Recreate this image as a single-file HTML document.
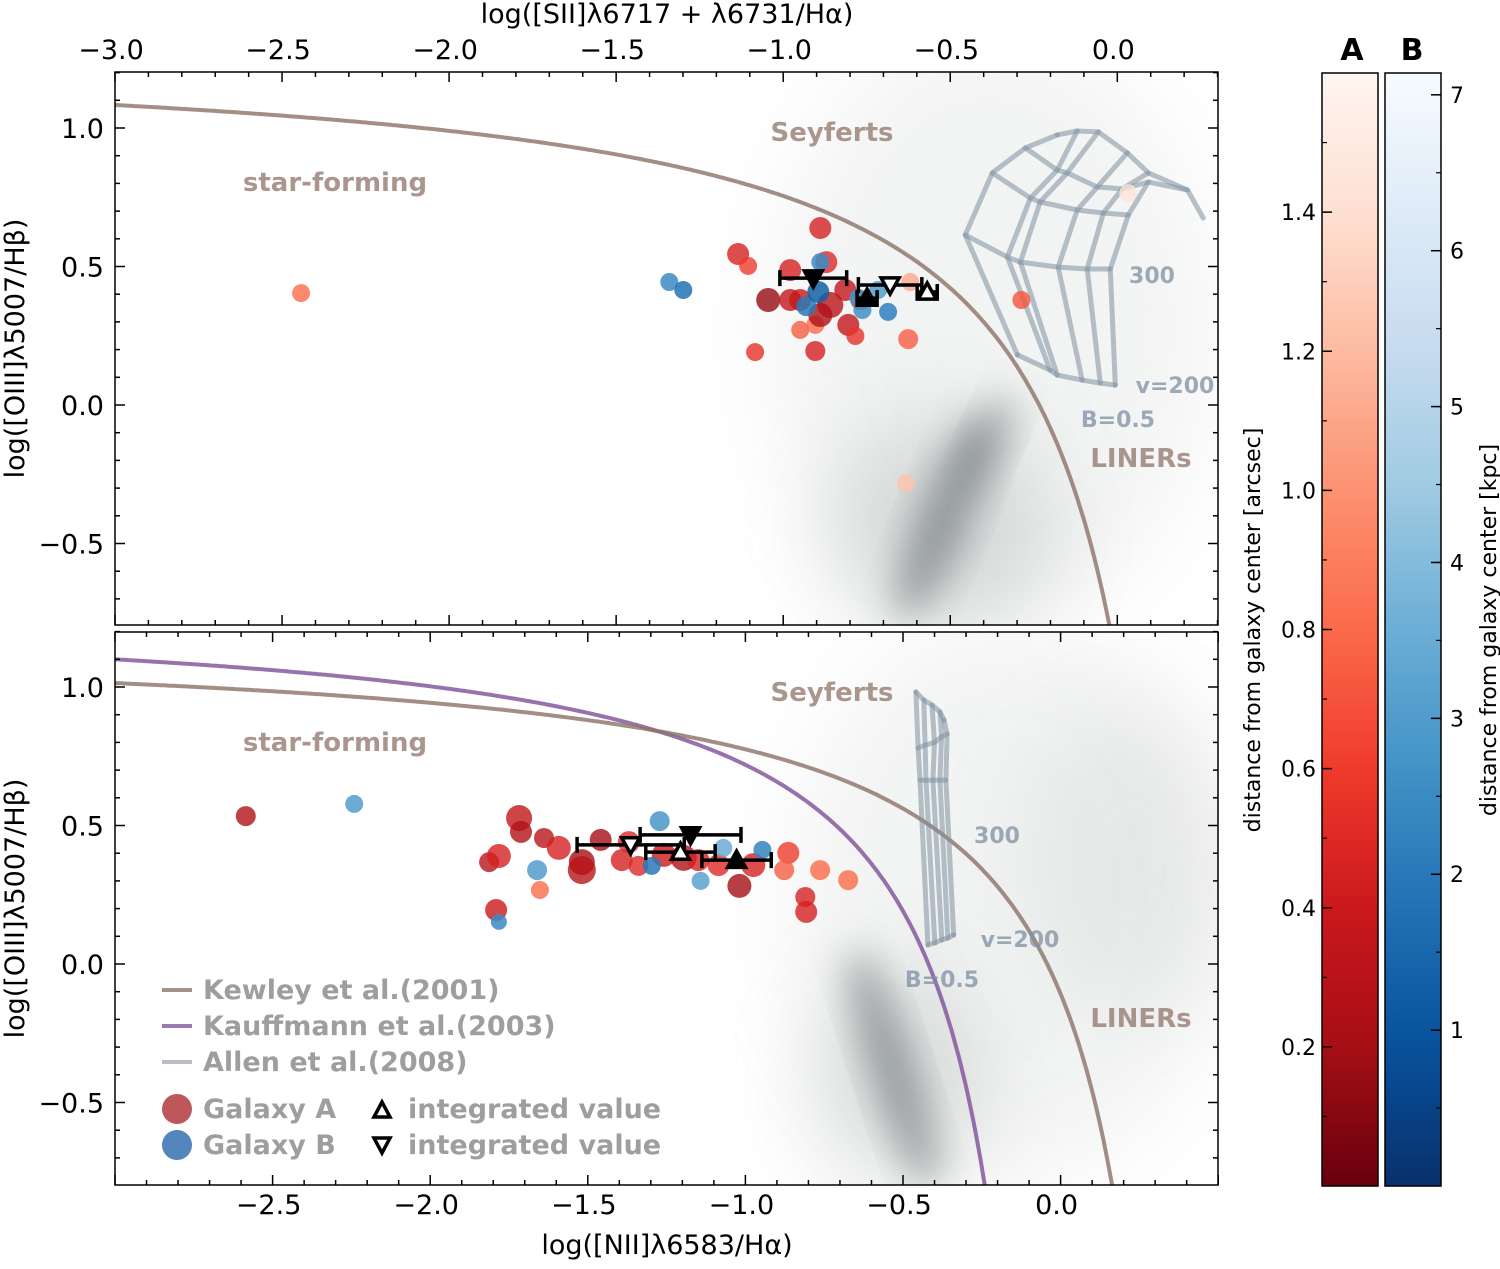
<!DOCTYPE html>
<html><head><meta charset="utf-8">
<style>
html,body{margin:0;padding:0;background:#fff;}
svg{display:block;font-family:"DejaVu Sans","Liberation Sans",sans-serif;}
</style></head>
<body>
<svg id="chart" width="1500" height="1269" viewBox="0 0 1500 1269" xmlns="http://www.w3.org/2000/svg">
<defs>
<linearGradient id="redsR" x1="0" y1="1" x2="0" y2="0">
<stop offset="0" stop-color="#67000d"/><stop offset="0.125" stop-color="#a50f15"/><stop offset="0.25" stop-color="#cb181d"/><stop offset="0.375" stop-color="#ef3b2c"/><stop offset="0.5" stop-color="#fb6a4a"/><stop offset="0.625" stop-color="#fc9272"/><stop offset="0.75" stop-color="#fcbba1"/><stop offset="0.875" stop-color="#fee0d2"/><stop offset="1" stop-color="#fff5f0"/>
</linearGradient>
<linearGradient id="bluesR" x1="0" y1="1" x2="0" y2="0">
<stop offset="0" stop-color="#08306b"/><stop offset="0.125" stop-color="#08519c"/><stop offset="0.25" stop-color="#2171b5"/><stop offset="0.375" stop-color="#4292c6"/><stop offset="0.5" stop-color="#6baed6"/><stop offset="0.625" stop-color="#9ecae1"/><stop offset="0.75" stop-color="#c6dbef"/><stop offset="0.875" stop-color="#deebf7"/><stop offset="1" stop-color="#f7fbff"/>
</linearGradient>
<filter id="blur20" x="-50%" y="-50%" width="200%" height="200%"><feGaussianBlur stdDeviation="18"/></filter>
<filter id="blur40" x="-50%" y="-50%" width="200%" height="200%"><feGaussianBlur stdDeviation="45"/></filter>
<clipPath id="clipTop"><rect x="115" y="72" width="1103" height="553"/></clipPath>
<clipPath id="clipBot"><rect x="115" y="632" width="1103" height="553"/></clipPath>
</defs>
<g id="root"></g>
</svg>
<script>
// ---------- data ----------
const topAx = [-2.443,-0.889,-1.135,-1.105,-0.979,-0.871,-1.045,-0.949,-0.859,-0.805,-0.784,-0.949,-0.904,-1.084,-0.904,-0.626,-0.620,-0.287,0.033,-0.632,-0.769,-0.979,-0.889,-0.814];
const topAy = [0.404,0.639,0.545,0.502,0.487,0.516,0.379,0.379,0.361,0.289,0.249,0.271,0.289,0.191,0.195,0.238,0.444,0.379,0.765,-0.282,0.379,0.379,0.325,0.415];
const topAd = [0.8,0.45,0.45,0.6,0.45,0.5,0.15,0.4,0.3,0.35,0.55,0.75,0.8,0.55,0.45,0.75,1.1,0.7,1.45,1.25,0.5,0.35,0.25,0.35];
const topAr = [9,11,11,9,11,11,12,11,13,11,9,9,9,9,10,10,9,9,9,9,10,11,12,11];
const topBx = [-1.341,-1.299,-0.889,-0.931,-0.895,-0.763,-0.686,-0.775,-0.716];
const topBy = [0.444,0.415,0.516,0.357,0.408,0.343,0.336,0.386,0.415];
const topBd = [2.5,1.8,2.5,2.0,1.3,2.6,2.2,2.8,3.0];
const topBr = [9,9,9,10,11,9,9,9,9];
const topIntX = [-0.910,-0.749,-0.680,-0.569];
const topIntY = [0.458,0.386,0.433,0.408];
const topIntErr = [0.10,0.03,0.095,0.03];
const topIntKind = ["downFilled","upFilled","downOpen","upOpen"];

const botAx = [-2.585,-1.718,-1.712,-1.639,-1.813,-1.782,-1.791,-1.652,-1.592,-1.519,-1.519,-1.459,-1.392,-1.339,-1.259,-1.196,-1.085,-1.019,-0.975,-0.864,-0.877,-0.763,-0.674,-0.810,-0.807,-1.370,-1.149];
const botAy = [0.534,0.527,0.477,0.455,0.368,0.390,0.195,0.267,0.419,0.368,0.339,0.448,0.375,0.354,0.394,0.383,0.357,0.282,0.357,0.401,0.339,0.339,0.303,0.242,0.188,0.440,0.375];
const botAd = [0.25,0.35,0.25,0.3,0.3,0.45,0.4,0.8,0.45,0.2,0.3,0.2,0.45,0.5,0.4,0.25,0.5,0.2,0.45,0.6,0.75,0.8,0.8,0.45,0.45,0.5,0.45];
const botAr = [10,13,11,10,10,12,11,9,12,13,14,11,11,10,12,13,11,12,12,11,10,10,10,10,11,11,11];
const botBx = [-2.241,-1.782,-1.661,-1.272,-1.297,-1.142,-0.946,-1.070];
const botBy = [0.578,0.152,0.339,0.516,0.354,0.300,0.412,0.419];
const botBd = [3.0,2.5,3.0,2.8,2.0,3.2,2.3,3.5];
const botBr = [9,8,10,10,9,9,9,9];
const botIntX = [-1.364,-1.174,-1.206,-1.028];
const botIntY = [0.430,0.466,0.404,0.375];
const botIntErr = [0.17,0.16,0.11,0.11];
const botIntKind = ["downOpen","downFilled","upOpen","upFilled"];

const topGridX = [
 [-0.299,-0.201,-0.180,-0.105,-0.051,-0.006],
 [-0.455,-0.329,-0.290,-0.177,-0.090,-0.021],
 [-0.374,-0.260,-0.231,-0.120,-0.042,0.033],
 [-0.275,-0.180,-0.150,-0.060,0.015,0.093],
 [-0.180,-0.120,-0.057,0.030,0.093,0.210,0.257]];
const topGridY = [
 [0.181,0.126,0.108,0.090,0.079,0.072],
 [0.614,0.534,0.516,0.498,0.491,0.491],
 [0.838,0.747,0.733,0.704,0.693,0.686],
 [0.928,0.848,0.838,0.787,0.780,0.805],
 [0.975,0.989,0.986,0.910,0.838,0.776,0.675]];
const botGridX = [
 [-0.421,-0.399,-0.377,-0.358,-0.339],
 [-0.446,-0.427,-0.405,-0.383,-0.364],
 [-0.452,-0.430,-0.400,-0.378,-0.360],
 [-0.459,-0.434,-0.408,-0.383,-0.370]];
const botGridY = [
 [0.069,0.076,0.087,0.094,0.105],
 [0.664,0.664,0.664,0.664,0.664],
 [0.780,0.790,0.800,0.820,0.830],
 [0.982,0.953,0.935,0.910,0.881]];

const xTopTicks = ["−3.0","−2.5","−2.0","−1.5","−1.0","−0.5","0.0"];
const xTopTickVals = [-3.0,-2.5,-2.0,-1.5,-1.0,-0.5,0.0];
const xBotTicks = ["−2.5","−2.0","−1.5","−1.0","−0.5","0.0"];
const xBotTickVals = [-2.5,-2.0,-1.5,-1.0,-0.5,0.0];
const yTicks = ["−0.5","0.0","0.5","1.0"];
const yTickVals = [-0.5,0.0,0.5,1.0];
const cbATicks = [0.2,0.4,0.6,0.8,1.0,1.2,1.4];
const cbBTicks = [1,2,3,4,5,6,7];

// ---------- scales ----------
const PL=115, PR=1218, TT=72, TB=625, BT=632, BB=1185;
const xT = v => PL + (v+3)*334.1;
const xB = v => PL + (v+3)*315.2;
const yT = v => 405 - v*277;
const yB = v => 964 - v*277;
const cbA = v => 1186 - v*(1113/1.6);
const cbB = v => 1186 - v*(1113/7.14);

const NS="http://www.w3.org/2000/svg";
const root=document.getElementById('root');
function mk(tag, attrs, parent){
  const e=document.createElementNS(NS,tag);
  for(const k in attrs) e.setAttribute(k,attrs[k]);
  (parent||root).appendChild(e); return e;
}
function txt(s, attrs, parent){const e=mk('text',attrs,parent); e.textContent=s; return e;}

const redsStops=[[103,0,13],[165,15,21],[203,24,29],[239,59,44],[251,106,74],[252,146,114],[252,187,161],[254,224,210],[255,245,240]];
const bluesStops=[[8,48,107],[8,81,156],[33,113,181],[66,146,198],[107,174,214],[158,202,225],[198,219,239],[222,235,247],[247,251,255]];
function cmap(stops,t){t=Math.max(0,Math.min(1,t));const f=t*(stops.length-1);const i=Math.min(stops.length-2,Math.floor(f));const u=f-i;
  const c=stops[i].map((a,k)=>Math.round(a+(stops[i+1][k]-a)*u));return `rgb(${c[0]},${c[1]},${c[2]})`;}

function panel(isTop){
  const g=mk('g',{});
  
  
  const top=isTop?TT:BT, bot=isTop?TB:BB;
  const X=isTop?xT:xB, Y=isTop?yT:yB;
  const clip=isTop?'url(#clipTop)':'url(#clipBot)';
  const bg=mk('g',{'clip-path':clip},g);
  
  
  if(isTop){
    mk('ellipse',{cx:990,cy:330,rx:220,ry:300,fill:'#a8aeae',opacity:0.14,filter:'url(#blur40)'},bg);
    mk('ellipse',{cx:940,cy:530,rx:110,ry:110,fill:'#8a9292',opacity:0.28,filter:'url(#blur40)'},bg);
    mk('ellipse',{cx:945,cy:515,rx:26,ry:110,fill:'#5e6666',opacity:0.55,transform:'rotate(22 945 515)',filter:'url(#blur20)'},bg);
    mk('ellipse',{cx:990,cy:440,rx:18,ry:50,fill:'#5e6666',opacity:0.35,transform:'rotate(25 990 440)',filter:'url(#blur20)'},bg);
  } else {
    mk('ellipse',{cx:1010,cy:900,rx:220,ry:280,fill:'#a8aeae',opacity:0.14,filter:'url(#blur40)'},bg);
    mk('ellipse',{cx:1130,cy:860,rx:110,ry:160,fill:'#a0a6a6',opacity:0.14,filter:'url(#blur40)'},bg);
    mk('ellipse',{cx:895,cy:1080,rx:80,ry:110,fill:'#8a9292',opacity:0.28,filter:'url(#blur40)'},bg);
    mk('ellipse',{cx:893,cy:1070,rx:22,ry:125,fill:'#5e6666',opacity:0.55,transform:'rotate(-18 893 1070)',filter:'url(#blur20)'},bg);
  }
  function curve(f,xs,xe,col,name){
    let d='';for(let i=0;i<=400;i++){const x=xs+(xe-xs)*i/400;const y=f(x);if(y<-1.2)break;d+=(i?'L':'M')+X(x).toFixed(1)+','+Y(y).toFixed(1);}
    const p=mk('path',{d:d,fill:'none',stroke:col,'stroke-width':4,'stroke-opacity':0.8},bg);
    
    
  }
  if(isTop){ curve(x=>0.72/(x-0.32)+1.30,-3.05,0.31,'#8c7266','kewley-2001-curve'); }
  else {
    curve(x=>0.61/(x-0.05)+1.30,-3.05,0.04,'#7e4f98','kauffmann-2003-curve');
    curve(x=>0.61/(x-0.47)+1.19,-3.05,0.46,'#8c7266','kewley-2001-curve');
  }
  const GX=isTop?topGridX:botGridX, GY=isTop?topGridY:botGridY;
  const grid=mk('g',{fill:'none',stroke:'#7d8fa1','stroke-width':5,'stroke-opacity':0.55,'stroke-linejoin':'round','stroke-linecap':'round'},bg);
  
  
  for(let r=0;r<GX.length;r++){
    let d='';for(let i=0;i<GX[r].length;i++) d+=(i?'L':'M')+X(GX[r][i]).toFixed(1)+','+Y(GY[r][i]).toFixed(1);
    mk('path',{d:d},grid);
  }
  const nc=Math.min(...GX.map(a=>a.length));
  for(let c=0;c<nc;c++){
    let d='';for(let r=0;r<GX.length;r++) d+=(r?'L':'M')+X(GX[r][c]).toFixed(1)+','+Y(GY[r][c]).toFixed(1);
    mk('path',{d:d},grid);
  }
  const lab={fill:'#9c8479','font-weight':'bold','font-size':26,'text-anchor':'middle','fill-opacity':0.85};
  const off=isTop?0:560;
  let t;
  t=txt('Seyferts',Object.assign({x:832,y:141+off},lab),g);
   
  t=txt('star-forming',Object.assign({x:335,y:191+off},lab),g);
   
  t=txt('LINERs',Object.assign({x:1141,y:467+off},lab),g);
   
  const gl={fill:'#7d8fa1','font-weight':'bold','font-size':22,'text-anchor':'middle','fill-opacity':0.75};
  const gpos=isTop?[[1152,283],[1175,393],[1118,427]]:[[997,843],[1020,947],[942,987]];
  t=txt('300',Object.assign({x:gpos[0][0],y:gpos[0][1]},gl),g);
   
  t=txt('v=200',Object.assign({x:gpos[1][0],y:gpos[1][1]},gl),g);
   
  t=txt('B=0.5',Object.assign({x:gpos[2][0],y:gpos[2][1]},gl),g);
   

  const pts=mk('g',{'clip-path':clip},g);
  const AX=isTop?topAx:botAx, AY=isTop?topAy:botAy, AD=isTop?topAd:botAd, AR=isTop?topAr:botAr;
  const BX=isTop?topBx:botBx, BY=isTop?topBy:botBy, BD=isTop?topBd:botBd, BR=isTop?topBr:botBr;
  for(let i=0;i<AX.length;i++){
    const c=mk('circle',{cx:X(AX[i]).toFixed(1),cy:Y(AY[i]).toFixed(1),r:AR[i],fill:cmap(redsStops,AD[i]/1.6),'fill-opacity':0.8},pts);
    
    
  }
  for(let i=0;i<BX.length;i++){
    const c=mk('circle',{cx:X(BX[i]).toFixed(1),cy:Y(BY[i]).toFixed(1),r:BR[i],fill:cmap(bluesStops,BD[i]/7.14),'fill-opacity':0.85},pts);
    
    
  }
  const IX=isTop?topIntX:botIntX, IY=isTop?topIntY:botIntY, IE=isTop?topIntErr:botIntErr, IK=isTop?topIntKind:botIntKind;
  for(let i=0;i<IX.length;i++){
    const cx=X(IX[i]), cy=Y(IY[i]), x1=X(IX[i]-IE[i]), x2=X(IX[i]+IE[i]);
    const eg=mk('g',{stroke:'#000','stroke-width':3.5},pts);
    
    
    mk('line',{x1:x1,y1:cy,x2:x2,y2:cy},eg);
    mk('line',{x1:x1,y1:cy-8,x2:x1,y2:cy+8},eg);
    mk('line',{x1:x2,y1:cy-8,x2:x2,y2:cy+8},eg);
    const s=9, up=IK[i].startsWith('up');
    const pts3=up?`${cx-s},${cy+s*0.8} ${cx+s},${cy+s*0.8} ${cx},${cy-s}`:`${cx-s},${cy-s*0.8} ${cx+s},${cy-s*0.8} ${cx},${cy+s}`;
    mk('polygon',{points:pts3,fill:IK[i].endsWith('Filled')?'#000':'#fff','stroke-linejoin':'miter'},eg);
  }
  const fr=mk('rect',{x:PL,y:top,width:PR-PL,height:bot-top,fill:'none',stroke:'#000','stroke-width':1.5},g);
   
  const tk=mk('g',{stroke:'#000','stroke-width':1.5},g);
   
  const xmin=-3, xmax=isTop?0.3:0.5;
  for(let k=Math.round(xmin*10);k<=Math.round(xmax*10);k++){
    const v=k/10, px=X(v); if(px<PL-0.5||px>PR+0.5) continue;
    const L=(k%5===0)?10:5;
    mk('line',{x1:px,y1:top,x2:px,y2:top+L},tk);
    mk('line',{x1:px,y1:bot,x2:px,y2:bot-L},tk);
  }
  for(let k=-8;k<=12;k++){
    const py=Y(k/10); if(py<top-0.5||py>bot+0.5) continue;
    const L=(k%5===0)?10:5;
    mk('line',{x1:PL,y1:py,x2:PL+L,y2:py},tk);
    mk('line',{x1:PR,y1:py,x2:PR-L,y2:py},tk);
  }
  for(let i=0;i<yTicks.length;i++){
    t=txt(yTicks[i],{x:104,y:Y(yTickVals[i])+10,'font-size':27,'text-anchor':'end',fill:'#000'},g);
     
  }
  t=txt('log([OIII]λ5007/Hβ)',{x:0,y:0,'font-size':27,'text-anchor':'middle',fill:'#000',transform:`translate(24 ${(top+bot)/2}) rotate(-90)`},g);
   
  if(isTop){
    for(let i=0;i<xTopTicks.length;i++){
      t=txt(xTopTicks[i],{x:X(xTopTickVals[i])-4,y:59,'font-size':27,'text-anchor':'middle',fill:'#000'},g);
       
    }
    t=txt('log([SII]λ6717 + λ6731/Hα)',{x:667,y:23,'font-size':27,'text-anchor':'middle',fill:'#000'},g);
     
  } else {
    for(let i=0;i<xBotTicks.length;i++){
      t=txt(xBotTicks[i],{x:X(xBotTickVals[i])-4,y:1214,'font-size':27,'text-anchor':'middle',fill:'#000'},g);
       
    }
    t=txt('log([NII]λ6583/Hα)',{x:667,y:1254,'font-size':27,'text-anchor':'middle',fill:'#000'},g);
     
  }
}
panel(true);
panel(false);

// ---------- legend ----------
const lg=mk('g',{});


const legText={fill:'#9e9e9e','font-weight':'bold','font-size':27};
const legLines=[['Kewley et al.(2001)','#a3928a',990],['Kauffmann et al.(2003)','#9a7bb0',1026],['Allen et al.(2008)','#b8bec4',1062]];
for(const L of legLines){
  const e=mk('g',{},lg);
  
  
  mk('line',{x1:162,y1:L[2],x2:192,y2:L[2],stroke:L[1],'stroke-width':4},e);
  txt(L[0],Object.assign({x:203,y:L[2]+9},legText),e);
}
let le=mk('g',{},lg);


mk('circle',{cx:177,cy:1109,r:15,fill:'#b03a3e','fill-opacity':0.85},le);
txt('Galaxy A',Object.assign({x:203,y:1118},legText),le);
le=mk('g',{},lg);


mk('circle',{cx:177,cy:1145,r:15,fill:'#3f79b6','fill-opacity':0.9},le);
txt('Galaxy B',Object.assign({x:203,y:1154},legText),le);
le=mk('g',{},lg);


mk('polygon',{points:'374,1117 390,1117 382,1102',fill:'#fff',stroke:'#000','stroke-width':3.5},le);
txt('integrated value',Object.assign({x:408,y:1118},legText),le);
le=mk('g',{},lg);


mk('polygon',{points:'374,1138 390,1138 382,1153',fill:'#fff',stroke:'#000','stroke-width':3.5},le);
txt('integrated value',Object.assign({x:408,y:1154},legText),le);

// ---------- colorbars ----------
const cbg=mk('g',{});


let r=mk('rect',{x:1322,y:73,width:56,height:1113,fill:'url(#redsR)',stroke:'#000','stroke-width':1.5},cbg);
 
r=mk('rect',{x:1385,y:73,width:56,height:1113,fill:'url(#bluesR)',stroke:'#000','stroke-width':1.5},cbg);
 
for(const v of cbATicks){
  const y=cbA(v);
  mk('line',{x1:1322,y1:y,x2:1332,y2:y,stroke:'#000','stroke-width':1.5},cbg);
  const t=txt(v.toFixed(1),{x:1316,y:y+8,'font-size':22,'text-anchor':'end',fill:'#000'},cbg);
   
}
for(let k=1;k<=15;k++){const y=cbA(k/10); mk('line',{x1:1322,y1:y,x2:1327,y2:y,stroke:'#000','stroke-width':1.2},cbg);}
for(const v of cbBTicks){
  const y=cbB(v);
  mk('line',{x1:1441,y1:y,x2:1431,y2:y,stroke:'#000','stroke-width':1.5},cbg);
  const t=txt(String(v),{x:1450,y:y+8,'font-size':22,fill:'#000'},cbg);
   
}
for(let k=1;k<=14;k++){const y=cbB(k/2); mk('line',{x1:1441,y1:y,x2:1436,y2:y,stroke:'#000','stroke-width':1.2},cbg);}
let t=txt('A',{x:1352,y:60,'font-size':30,'font-weight':'bold','text-anchor':'middle',fill:'#000'},cbg);
 
t=txt('B',{x:1412,y:60,'font-size':30,'font-weight':'bold','text-anchor':'middle',fill:'#000'},cbg);
 
t=txt('distance from galaxy center [arcsec]',{x:0,y:0,'font-size':22,'text-anchor':'middle',fill:'#000',transform:'translate(1260 630) rotate(-90)'},cbg);
 
t=txt('distance from galaxy center [kpc]',{x:0,y:0,'font-size':22,'text-anchor':'middle',fill:'#000',transform:'translate(1496 630) rotate(-90)'},cbg);
 
</script>
</body></html>
